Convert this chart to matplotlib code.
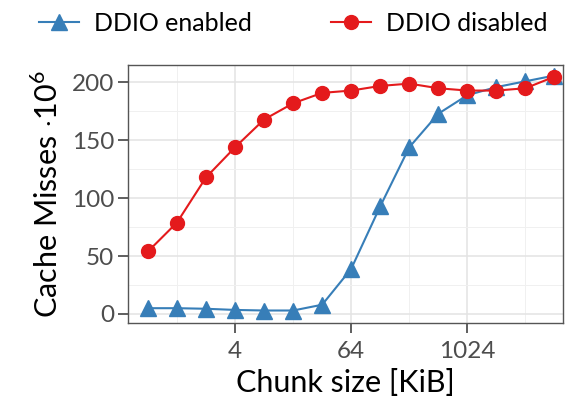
import numpy as np
import matplotlib
matplotlib.use("Agg")
import matplotlib.pyplot as plt
from matplotlib.ticker import FixedLocator, NullFormatter

chunk_kib = [0.5, 1, 2, 4, 8, 16, 32, 64, 128, 256, 512, 1024, 2048, 4096, 8192]
ddio_enabled = [5, 5, 4.5, 3.5, 3, 3, 8, 39, 93, 144, 173, 189, 196, 201, 206]
ddio_disabled = [54, 79, 118, 144, 168, 182, 191, 193, 197, 199, 195, 193, 193, 195, 205]
x_ticks = [4, 64, 1024]
x_minor = [1, 16, 256, 4096]
y_ticks = [0, 50, 100, 150, 200]
y_minor = [25, 75, 125, 175]

BLUE = "#377EB8"
RED = "#E41A1C"

plt.rcParams["font.family"] = ["Lato", "DejaVu Sans"]
plt.rcParams["mathtext.fontset"] = "custom"
plt.rcParams["mathtext.rm"] = "Lato"

fig = plt.figure(figsize=(5.66, 4.12), dpi=100)
ax = fig.add_axes([0.226, 0.216, 0.769, 0.626])

ax.plot(chunk_kib, ddio_enabled, color=BLUE, marker="^", markersize=11, lw=1.5,
        label="DDIO enabled", zorder=3)
ax.plot(chunk_kib, ddio_disabled, color=RED, marker="o", markersize=10, lw=1.5,
        label="DDIO disabled", zorder=3)

ax.set_xscale("log", base=2)
ax.set_xlim(2 ** -1.69, 2 ** 13.3)
ax.set_ylim(-7.8, 215)
ax.xaxis.set_major_locator(FixedLocator(x_ticks))
ax.xaxis.set_minor_locator(FixedLocator(x_minor))
ax.xaxis.set_minor_formatter(NullFormatter())
ax.set_xticklabels([str(t) for t in x_ticks])
ax.yaxis.set_major_locator(FixedLocator(y_ticks))
ax.yaxis.set_minor_locator(FixedLocator(y_minor))

ax.grid(which="major", color="#E3E3E3", lw=1.1)
ax.grid(which="minor", color="#F0F0F0", lw=0.7)
ax.set_axisbelow(True)
ax.tick_params(which="major", length=7, width=1.1, color="#333333",
               labelsize=17.5, labelcolor="#4D4D4D", pad=3)
ax.tick_params(axis="x", which="major", pad=6)
ax.tick_params(which="minor", length=0)
for s in ax.spines.values():
    s.set_color("#555555")
    s.set_linewidth(1.0)

ax.set_xlabel("Chunk size [KiB]", fontsize=22, labelpad=5)
ax.set_ylabel(r"Cache Misses $\cdot 10^6$", fontsize=22, labelpad=6)

fig.legend(loc="upper center", bbox_to_anchor=(0.518, 1.025), ncol=2, frameon=False,
           fontsize=18, handlelength=1.6, columnspacing=3.2, handletextpad=0.6)

fig.savefig("out.png", dpi=100)
